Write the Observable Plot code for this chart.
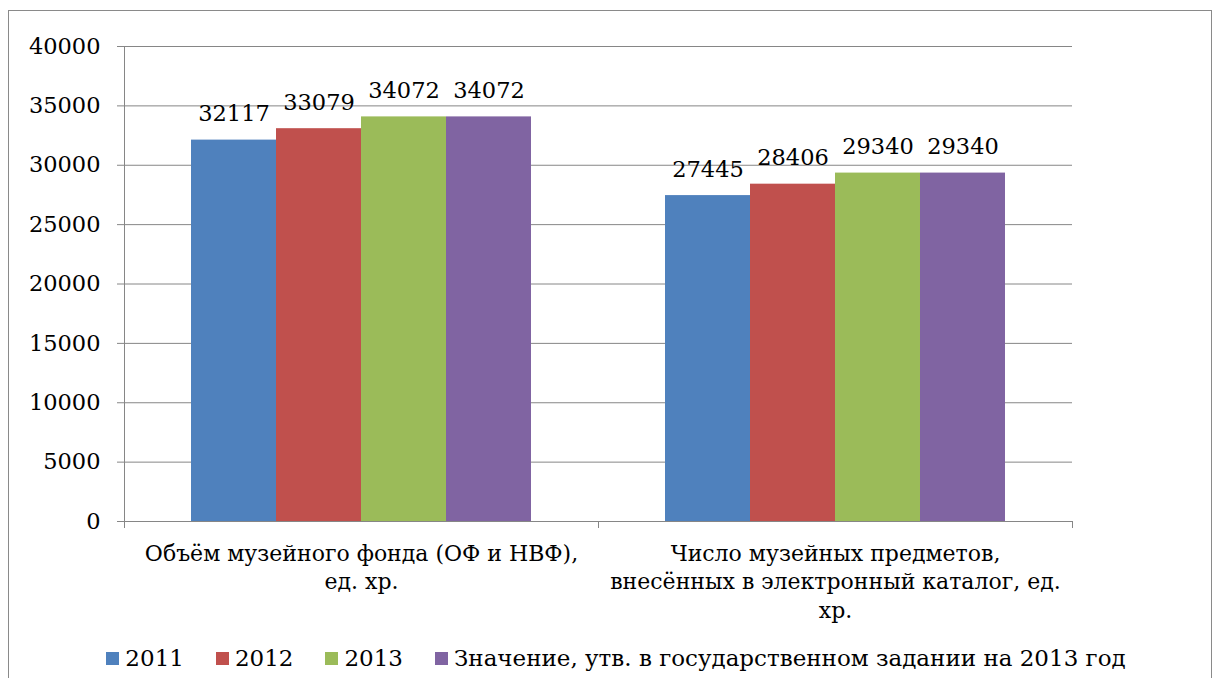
<!DOCTYPE html>
<html><head><meta charset="utf-8">
<script src="https://cdn.jsdelivr.net/npm/d3@7"></script>
<script src="https://cdn.jsdelivr.net/npm/@observablehq/plot@0.6"></script>
<style>
html,body{margin:0;padding:0;background:#fff;overflow:hidden;width:1214px;height:678px;}
body{font-family:"DejaVu Serif",serif;position:relative;}
#frame{position:absolute;left:8px;top:10px;width:1204px;height:720px;border:1px solid #8a8a8a;box-sizing:border-box;}
#chart{position:absolute;left:0;top:0;}
#legend{position:absolute;left:0;top:645px;width:1214px;display:flex;justify-content:center;align-items:center;font-size:23px;color:#000;gap:32px;padding-left:18px;box-sizing:border-box;}
.item{display:flex;align-items:center;gap:6px;white-space:nowrap;}
.sw{width:13px;height:13px;display:inline-block;}
</style>
</head><body>
<div id="frame"></div>
<div id="chart"></div>
<div id="legend"></div>
<script>
const categories = ["Объём музейного фонда (ОФ и НВФ),\nед. хр.", "Число музейных предметов,\nвнесённых в электронный каталог, ед.\nхр."];
const series = ["2011", "2012", "2013", "Значение, утв. в государственном задании на 2013 год"];
const valuesFund = [32117, 33079, 34072, 34072];
const valuesCatalog = [27445, 28406, 29340, 29340];
const colors = ["#4F81BD", "#C0504D", "#9BBB59", "#8064A2"];
const yTicks = [0, 5000, 10000, 15000, 20000, 25000, 30000, 35000, 40000];

const data = [];
[valuesFund, valuesCatalog].forEach((vals, ci) => {
  vals.forEach((v, si) => data.push({cat: categories[ci], series: series[si], value: v}));
});

const gridColor = "#868686";
const font = "DejaVu Serif";

const plot = Plot.plot({
  width: 1214, height: 630,
  marginLeft: 124, marginRight: 142, marginTop: 46, marginBottom: 109,
  style: {fontFamily: font, fontSize: "22px", color: "#000", background: "transparent", overflow: "visible"},
  fx: {domain: categories, padding: 0, label: null, axis: null},
  x: {domain: series, paddingInner: 0, paddingOuter: 0.756, axis: null},
  y: {domain: [0, 40000], label: null},
  color: {domain: series, range: colors},
  marks: [
    Plot.gridY(yTicks, {stroke: gridColor, strokeOpacity: 1, strokeWidth: 1}),
    Plot.axisY(yTicks, {tickSize: 7, stroke: gridColor, strokeOpacity: 1, tickPadding: 17, label: null, tickFormat: d => String(d), fontSize: 22.5, fill: "#000"}),
    Plot.axisFx({anchor: "bottom", tickSize: 0, tickPadding: 19, label: null, lineHeight: 1.3, fontSize: 22, fill: "#000"}),
    Plot.barY(data, {fx: "cat", x: "series", y: "value", fill: "series"}),
    Plot.text(data, {fx: "cat", x: "series", y: "value", text: d => String(d.value), lineAnchor: "bottom", dy: -19, fontSize: 22.5, fill: "#000"})
  ]
});
document.getElementById("chart").appendChild(plot);

// axis lines derived from the plot's own scales
const fxs = plot.scale("fx"), ys = plot.scale("y");
const svg = d3.select(plot);
const y0 = ys.apply(0), yTop = ys.apply(40000);
const left = fxs.apply(categories[0]);
const edges = [];
categories.forEach(c => { edges.push(fxs.apply(c)); edges.push(fxs.apply(c) + fxs.bandwidth); });
const uniq = Array.from(new Set(edges.map(e => Math.round(e * 10) / 10)));
const g = svg.append("g").attr("stroke", gridColor).attr("stroke-width", 1);
g.append("line").attr("x1", left + 0.5).attr("x2", left + 0.5).attr("y1", yTop).attr("y2", y0);
uniq.forEach(x => g.append("line").attr("x1", x + 0.5).attr("x2", x + 0.5).attr("y1", y0).attr("y2", y0 + 7));

// legend
const lg = d3.select("#legend");
series.forEach((s, i) => {
  const it = lg.append("div").attr("class", "item");
  it.append("span").attr("class", "sw").style("background", colors[i]);
  it.append("span").text(s);
});
</script>
</body></html>
